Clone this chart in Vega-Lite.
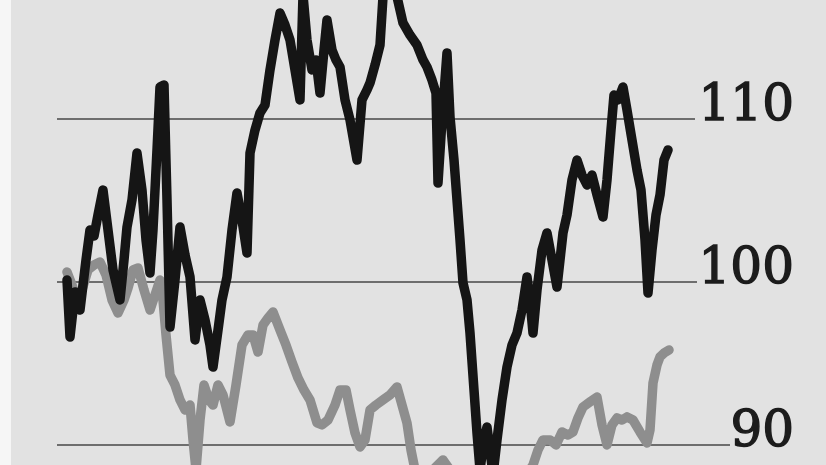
{
  "$schema": "https://vega.github.io/schema/vega-lite/v6.json",
  "width": 815,
  "height": 465,
  "autosize": {"type": "none"},
  "padding": {"left": 11, "top": 0, "right": 0, "bottom": 0},
  "background": "#f6f6f6",
  "config": {"view": {"stroke": null, "fill": "#e2e2e2"}},
  "datasets": {
    "black": [
      {"t":0,"v":100.12},{"t":3,"v":96.63},{"t":8,"v":99.39},{"t":13,"v":98.28},{"t":19,"v":101.35},{"t":23,"v":103.19},{"t":27,"v":102.82},{"t":31,"v":104.11},{"t":36,"v":105.64},{"t":41,"v":103.19},{"t":46,"v":100.74},{"t":53,"v":98.9},{"t":57,"v":101.35},{"t":60,"v":103.37},{"t":65,"v":105.03},{"t":70,"v":107.91},{"t":75,"v":105.64},{"t":79,"v":102.58},{"t":83,"v":100.55},{"t":86,"v":103.19},{"t":90,"v":108.1},{"t":93,"v":111.96},{"t":97,"v":112.09},{"t":100,"v":105.03},{"t":103,"v":97.24},{"t":108,"v":100.12},{"t":113,"v":103.37},{"t":118,"v":101.66},{"t":123,"v":100.31},{"t":128,"v":96.44},{"t":133,"v":98.9},{"t":138,"v":97.67},{"t":143,"v":96.13},{"t":146,"v":94.78},{"t":151,"v":97.05},{"t":155,"v":98.9},{"t":160,"v":100.31},{"t":165,"v":103.19},{"t":170,"v":105.46},{"t":175,"v":103.8},{"t":180,"v":101.78},{"t":183,"v":107.91},{"t":188,"v":109.32},{"t":193,"v":110.37},{"t":198,"v":110.86},{"t":203,"v":113.01},{"t":208,"v":114.85},{"t":213,"v":116.5},{"t":218,"v":115.77},{"t":223,"v":114.85},{"t":228,"v":113.01},{"t":233,"v":111.17},{"t":236,"v":117.6},{"t":240,"v":114.85},{"t":245,"v":113.01},{"t":249,"v":113.62},{"t":253,"v":111.59},{"t":257,"v":114.23},{"t":260,"v":116.07},{"t":265,"v":114.23},{"t":269,"v":113.62},{"t":273,"v":113.19},{"t":278,"v":111.17},{"t":283,"v":109.94},{"t":290,"v":107.48},{"t":295,"v":111.17},{"t":300,"v":111.78},{"t":303,"v":112.21},{"t":308,"v":113.31},{"t":313,"v":114.54},{"t":316,"v":117.5},{"t":323,"v":118.2},{"t":330,"v":117.5},{"t":336,"v":115.89},{"t":343,"v":115.15},{"t":350,"v":114.54},{"t":356,"v":113.62},{"t":360,"v":113.19},{"t":365,"v":112.39},{"t":369,"v":111.59},{"t":371,"v":106.07},{"t":375,"v":109.94},{"t":380,"v":114.05},{"t":383,"v":110.12},{"t":387,"v":107.48},{"t":390,"v":105.03},{"t":393,"v":102.58},{"t":396,"v":99.94},{"t":400,"v":98.9},{"t":403,"v":96.87},{"t":407,"v":93.37},{"t":410,"v":90.74},{"t":413,"v":88.47},{"t":417,"v":90.31},{"t":420,"v":91.1},{"t":423,"v":89.69},{"t":426,"v":88.16},{"t":430,"v":90.31},{"t":435,"v":92.76},{"t":440,"v":94.78},{"t":445,"v":96.13},{"t":450,"v":96.87},{"t":455,"v":98.28},{"t":460,"v":100.31},{"t":463,"v":98.9},{"t":466,"v":96.87},{"t":470,"v":99.51},{"t":475,"v":101.96},{"t":480,"v":103.01},{"t":485,"v":101.35},{"t":490,"v":99.69},{"t":493,"v":101.35},{"t":496,"v":103.01},{"t":500,"v":104.11},{"t":505,"v":106.26},{"t":510,"v":107.48},{"t":515,"v":106.56},{"t":520,"v":105.95},{"t":525,"v":106.56},{"t":530,"v":105.34},{"t":536,"v":103.99},{"t":540,"v":106.26},{"t":544,"v":109.32},{"t":547,"v":111.47},{"t":551,"v":111.17},{"t":556,"v":111.96},{"t":560,"v":110.55},{"t":565,"v":108.71},{"t":570,"v":106.87},{"t":574,"v":105.64},{"t":578,"v":102.58},{"t":581,"v":99.32},{"t":585,"v":101.96},{"t":589,"v":104.11},{"t":593,"v":105.34},{"t":597,"v":107.48},{"t":601,"v":108.1}
    ],
    "gray": [
      {"t":0,"v":100.61},{"t":5,"v":99.82},{"t":10,"v":98.9},{"t":15,"v":99.51},{"t":21,"v":100.74},{"t":27,"v":101.04},{"t":33,"v":101.23},{"t":39,"v":100.43},{"t":45,"v":98.9},{"t":51,"v":98.1},{"t":57,"v":98.9},{"t":61,"v":99.63},{"t":66,"v":100.74},{"t":71,"v":100.86},{"t":77,"v":99.51},{"t":83,"v":98.28},{"t":88,"v":99.2},{"t":93,"v":100.12},{"t":96,"v":98.9},{"t":99,"v":96.75},{"t":103,"v":94.29},{"t":108,"v":93.68},{"t":113,"v":92.76},{"t":118,"v":92.15},{"t":123,"v":92.45},{"t":126,"v":90.31},{"t":129,"v":88.47},{"t":133,"v":91.53},{"t":137,"v":93.68},{"t":142,"v":92.76},{"t":146,"v":92.45},{"t":151,"v":93.68},{"t":156,"v":93.07},{"t":163,"v":91.41},{"t":169,"v":93.68},{"t":175,"v":96.13},{"t":181,"v":96.75},{"t":186,"v":96.75},{"t":191,"v":95.7},{"t":196,"v":97.36},{"t":201,"v":97.79},{"t":206,"v":98.16},{"t":213,"v":97.05},{"t":219,"v":96.13},{"t":225,"v":95.09},{"t":231,"v":94.11},{"t":237,"v":93.37},{"t":243,"v":92.76},{"t":250,"v":91.35},{"t":255,"v":91.23},{"t":261,"v":91.53},{"t":268,"v":92.45},{"t":273,"v":93.37},{"t":279,"v":93.37},{"t":283,"v":92.15},{"t":288,"v":90.74},{"t":293,"v":89.88},{"t":298,"v":90.31},{"t":303,"v":92.15},{"t":309,"v":92.45},{"t":316,"v":92.76},{"t":323,"v":93.07},{"t":330,"v":93.56},{"t":335,"v":92.45},{"t":340,"v":91.35},{"t":344,"v":89.69},{"t":348,"v":88.47},{"t":358,"v":87.97},{"t":368,"v":88.59},{"t":376,"v":89.08},{"t":383,"v":88.47},{"t":403,"v":86.93},{"t":433,"v":86.63},{"t":453,"v":87.55},{"t":466,"v":88.77},{"t":471,"v":89.69},{"t":476,"v":90.31},{"t":483,"v":90.31},{"t":489,"v":90.0},{"t":495,"v":90.8},{"t":501,"v":90.61},{"t":506,"v":90.8},{"t":511,"v":91.66},{"t":516,"v":92.33},{"t":523,"v":92.64},{"t":530,"v":92.94},{"t":535,"v":91.23},{"t":540,"v":90.0},{"t":545,"v":91.23},{"t":550,"v":91.66},{"t":555,"v":91.53},{"t":560,"v":91.72},{"t":566,"v":91.53},{"t":573,"v":90.8},{"t":580,"v":90.12},{"t":583,"v":90.92},{"t":586,"v":93.8},{"t":590,"v":94.91},{"t":593,"v":95.4},{"t":597,"v":95.64},{"t":602,"v":95.83}
    ],
    "grid": [
      {"v":110,"t0":-10,"t1":628,"label":"110"},
      {"v":100,"t0":-10,"t1":630,"label":"100"},
      {"v":90,"t0":-10,"t1":663,"label":"90"}
    ]
  },
  "layer": [
    {
      "data": {"name": "grid"},
      "mark": {"type": "rule", "color": "#6e6e6e", "strokeWidth": 2},
      "encoding": {
        "x": {"field": "t0", "type": "quantitative", "scale": {"domain": [-56, 759], "nice": false, "zero": false}, "axis": null},
        "x2": {"field": "t1"},
        "y": {"field": "v", "type": "quantitative", "scale": {"domain": [88.77, 117.3], "nice": false, "zero": false}, "axis": null}
      }
    },
    {
      "data": {"name": "grid"},
      "mark": {"type": "text", "align": "right", "baseline": "alphabetic", "dy": 1, "font": "DejaVu Serif", "fontSize": 50, "color": "#1c1c1c", "stroke": "#1c1c1c", "strokeWidth": 1.4},
      "encoding": {
        "x": {"datum": 727, "type": "quantitative"},
        "y": {"field": "v", "type": "quantitative"},
        "text": {"field": "label"}
      }
    },
    {
      "data": {"name": "gray"},
      "mark": {"type": "line", "color": "#8e8e8e", "strokeWidth": 9.5, "strokeJoin": "round", "strokeCap": "round", "clip": true},
      "encoding": {
        "x": {"field": "t", "type": "quantitative"},
        "y": {"field": "v", "type": "quantitative"}
      }
    },
    {
      "data": {"name": "black"},
      "mark": {"type": "line", "color": "#151515", "strokeWidth": 9.5, "strokeJoin": "round", "strokeCap": "round", "clip": true},
      "encoding": {
        "x": {"field": "t", "type": "quantitative"},
        "y": {"field": "v", "type": "quantitative"}
      }
    }
  ]
}
